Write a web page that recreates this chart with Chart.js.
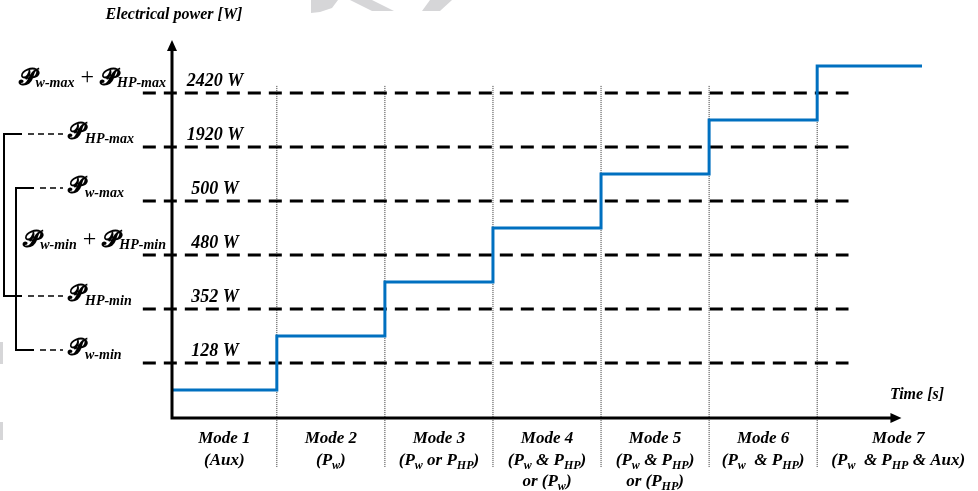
<!DOCTYPE html>
<html>
<head>
<meta charset="utf-8">
<script src="https://cdn.jsdelivr.net/npm/chart.js@4/dist/chart.umd.min.js"></script>
<style>
  html, body { margin: 0; padding: 0; background: #fff; }
  #wrap { width: 978px; height: 491px; }
</style>
</head>
<body>
<div id="wrap"><canvas id="chart" width="978" height="491"></canvas></div>
<script>
// power thresholds, bottom to top (one dashed guide each)
const thresholdWatts = [128, 352, 480, 500, 1920, 2420];
const thresholdNames = [
  '𝓟_{w-min}', '𝓟_{HP-min}', '𝓟_{w-min} + 𝓟_{HP-min}',
  '𝓟_{w-max}', '𝓟_{HP-max}', '𝓟_{w-max} + 𝓟_{HP-max}'
];

// operating modes along the time axis
const modeNames = ['Mode 1', 'Mode 2', 'Mode 3', 'Mode 4', 'Mode 5', 'Mode 6', 'Mode 7'];
const modeSources = [
  ['(Aux)'],
  ['(P_{w})'],
  ['(P_{w} or P_{HP})'],
  ['(P_{w} & P_{HP})', 'or (P_{w})'],
  ['(P_{w} & P_{HP})', 'or (P_{HP})'],
  ['(P_{w}  & P_{HP})'],
  ['(P_{w}  & P_{HP} & Aux)']
];
// band edges on the time axis, and where each mode sits between thresholds
const modeEdges = [0.03, 1, 2, 3, 4, 5, 6, 7.5];
const modeBand = [-0.5, 0.5, 1.5, 2.5, 3.5, 4.5, 5.5];
const traceEnd = 6.97;

// extents of the guide lines
const guideFrom = -0.24, guideTo = 6.29;
const dividerTop = 5.13, dividerBottom = -1.93;

const SERIF = '"Liberation Serif", "Times New Roman", serif';
const SCRIPT = '"DejaVu Serif", "DejaVu Sans", serif';

function serif(size) { return 'italic bold ' + size + 'px ' + SERIF; }

// draws text with _{...} subscripts, the script P glyph and a roman plus sign
function drawRich(ctx, str, x, y, size, align, opt) {
  opt = opt || {};
  const subSize = opt.subSize || Math.round(size * 0.72);
  const pSize = opt.pSize || Math.round(size * 1.3);
  const subDrop = opt.subDrop != null ? opt.subDrop : Math.round(size * 0.25);
  const parts = str.split(/(_\{[^}]*\}|𝓟| \+ )/).filter(Boolean);
  const segs = parts.map(p => {
    let font, text = p, dy = 0;
    if (p.startsWith('_{')) {
      text = p.slice(2, -1); font = serif(subSize); dy = subDrop;
    } else if (p === '𝓟') {
      font = 'bold ' + pSize + 'px ' + SCRIPT; dy = opt.pDrop || 0;
    } else if (p === ' + ') {
      font = (opt.plusSize || size) + 'px ' + SERIF; dy = opt.plusDrop || 0;
    } else {
      font = serif(size);
    }
    ctx.font = font;
    return { text, font, dy, w: ctx.measureText(text).width };
  });
  const total = segs.reduce((a, s) => a + s.w, 0);
  let cx = align === 'center' ? x - total / 2 : align === 'right' ? x - total : x;
  ctx.textAlign = 'left';
  ctx.textBaseline = 'alphabetic';
  segs.forEach(s => {
    ctx.font = s.font;
    ctx.fillText(s.text, cx, y + s.dy);
    cx += s.w;
  });
}

function arrow(ctx, x, y, dir) {
  ctx.beginPath();
  if (dir === 'up') {
    ctx.moveTo(x, y); ctx.lineTo(x - 5, y + 11); ctx.lineTo(x + 5, y + 11);
  } else {
    ctx.moveTo(x, y); ctx.lineTo(x - 11, y - 5); ctx.lineTo(x - 11, y + 5);
  }
  ctx.closePath();
  ctx.fill();
}

const decorations = {
  id: 'decorations',
  beforeDraw(chart) {
    // faint watermark fragments
    const ctx = chart.ctx;
    ctx.save();
    ctx.fillStyle = '#d6d6d8';
    ctx.beginPath();
    ctx.moveTo(311, 0); ctx.lineTo(338, 0); ctx.lineTo(332, 8); ctx.lineTo(320, 12); ctx.lineTo(311, 13);
    ctx.closePath(); ctx.fill();
    ctx.beginPath();
    ctx.moveTo(350, 0); ctx.lineTo(372, 0); ctx.lineTo(394, 11); ctx.lineTo(372, 11);
    ctx.closePath(); ctx.fill();
    ctx.beginPath();
    ctx.moveTo(430, 0); ctx.lineTo(452, 0); ctx.lineTo(440, 11); ctx.lineTo(422, 11);
    ctx.closePath(); ctx.fill();
    ctx.fillRect(0, 342, 3, 22);
    ctx.fillRect(0, 422, 3, 18);
    ctx.restore();
  },
  afterDatasetsDraw(chart) {
    const { ctx, chartArea: a, scales: { x } } = chart;
    ctx.save();
    ctx.strokeStyle = '#000';
    ctx.fillStyle = '#000';
    ctx.lineWidth = 3;
    ctx.beginPath();
    ctx.moveTo(a.left, a.bottom); ctx.lineTo(a.left, a.top + 8);
    ctx.moveTo(a.left - 1.5, a.bottom); ctx.lineTo(x.getPixelForValue(6.78) - 8, a.bottom);
    ctx.stroke();
    arrow(ctx, a.left, a.top, 'up');
    arrow(ctx, x.getPixelForValue(6.78), a.bottom, 'right');
    ctx.restore();
  },
  afterDraw(chart) {
    const { ctx, scales: { x, y } } = chart;
    ctx.save();
    ctx.fillStyle = '#000';

    // axis titles
    ctx.font = serif(16);
    ctx.textAlign = 'center';
    ctx.textBaseline = 'middle';
    ctx.fillText('Electrical power [W]', 174, 15);
    ctx.fillText('Time [s]', 917, 395);

    // threshold values and names
    thresholdWatts.forEach((w, i) => {
      const py = y.getPixelForValue(i);
      ctx.font = serif(18);
      ctx.textAlign = 'center';
      ctx.textBaseline = 'alphabetic';
      ctx.fillText(w + ' W', 215, py - 7);
      const name = thresholdNames[i];
      if (name.includes('+')) {
        drawRich(ctx, name, 166, py - 8, 15, 'right',
          { pSize: 24, subSize: 14, subDrop: 2, plusSize: 24, plusDrop: -1 });
      } else {
        drawRich(ctx, name, 68, py - 8, 14, 'left', { pSize: 23, subSize: 14, subDrop: 4 });
      }
    });

    // brackets tying the single limits together
    ctx.lineWidth = 2;
    ctx.strokeStyle = '#000';
    [[1, 4, 4, 22], [0, 3, 16, 34]].forEach(([lo, hi, bx, solidTo]) => {
      const yl = y.getPixelForValue(lo) - 13;
      const yh = y.getPixelForValue(hi) - 13;
      ctx.setLineDash([]);
      ctx.beginPath();
      ctx.moveTo(solidTo, yh); ctx.lineTo(bx, yh); ctx.lineTo(bx, yl); ctx.lineTo(solidTo, yl);
      ctx.stroke();
      ctx.lineWidth = 1.5;
      ctx.setLineDash([6, 4]);
      ctx.beginPath();
      ctx.moveTo(solidTo + 6, yh); ctx.lineTo(63, yh);
      ctx.moveTo(solidTo + 6, yl); ctx.lineTo(63, yl);
      ctx.stroke();
      ctx.lineWidth = 2;
    });

    // mode captions under the time axis
    modeNames.forEach((m, i) => {
      const cx = x.getPixelForValue((modeEdges[i] + modeEdges[i + 1]) / 2);
      const lines = [m].concat(modeSources[i]);
      lines.forEach((line, j) => {
        drawRich(ctx, line, cx, 443 + j * 21.5, 17, 'center', { subSize: 12, subDrop: 4 });
      });
    });
    ctx.restore();
  }
};

const datasets = [];

// power trace, stepping up one band per mode
const trace = modeBand.map((b, i) => ({ x: modeEdges[i], y: b }));
trace.push({ x: traceEnd, y: modeBand[modeBand.length - 1] });
datasets.push({
  data: trace,
  stepped: true,
  borderColor: '#0070c0',
  borderWidth: 3,
  pointRadius: 0,
  clip: false
});

// dashed threshold guides
thresholdWatts.forEach((w, i) => {
  datasets.push({
    data: [{ x: guideFrom, y: i }, { x: guideTo, y: i }],
    borderColor: '#000',
    borderWidth: 3,
    borderDash: [13, 8],
    pointRadius: 0,
    clip: false
  });
});

// dotted mode dividers
modeEdges.slice(1, 7).forEach(e => {
  datasets.push({
    data: [{ x: e, y: dividerTop }, { x: e, y: dividerBottom }],
    borderColor: '#333',
    borderWidth: 1,
    borderDash: [1, 1],
    pointRadius: 0,
    clip: false
  });
});

new Chart(document.getElementById('chart'), {
  type: 'line',
  data: { datasets },
  options: {
    responsive: false,
    animation: false,
    devicePixelRatio: 1,
    layout: { padding: { left: 172, right: 56, top: 40, bottom: 73 } },
    plugins: { legend: { display: false }, tooltip: { enabled: false } },
    scales: {
      x: { type: 'linear', display: false, min: 0.03, max: 6.97 },
      y: { type: 'linear', display: false, min: -1.02, max: 5.98 }
    }
  },
  plugins: [decorations]
});
</script>
</body>
</html>
